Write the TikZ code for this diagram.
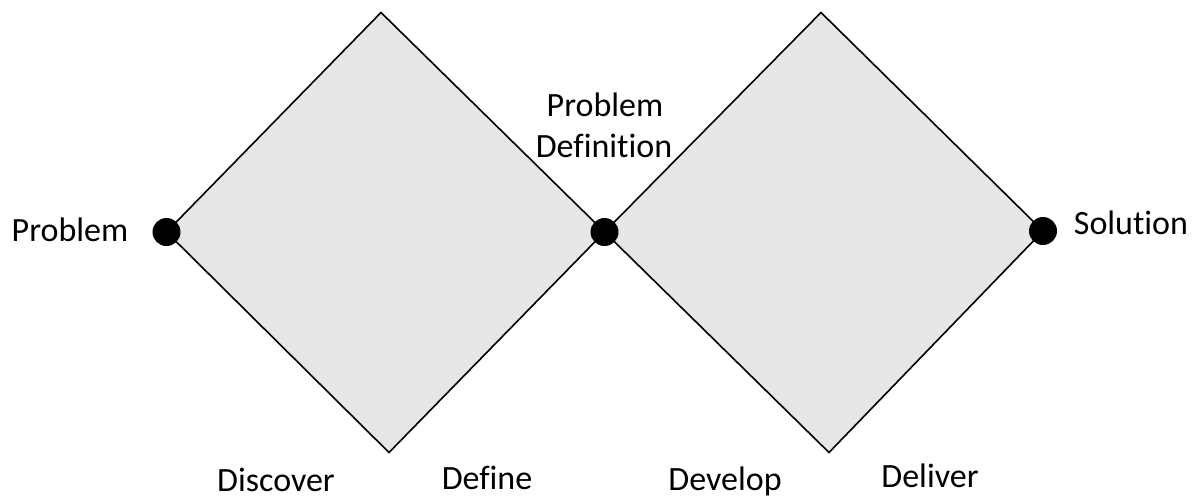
\documentclass[tikz,border=0pt]{standalone}
\usepackage{fontspec}
\setmainfont{Carlito}[Ligatures=NoCommon]
\begin{document}
\begin{tikzpicture}[x=1pt,y=-1pt,
  diam/.style={fill={rgb,255:red,230;green,230;blue,230},draw=black,line width=1.6pt,line join=miter},
  dot/.style={circle,fill=black,inner sep=0pt,minimum size=28pt},
  lbl/.style={font=\fontsize{34}{41}\selectfont,inner sep=0pt,anchor=base,align=center}]
\useasboundingbox (0,0) rectangle (1197,498);
\coordinate (lt) at (381,12.5);
\coordinate (lb) at (389,452.5);
\coordinate (rt) at (821,12.5);
\coordinate (rb) at (829,452.5);
\coordinate (pl) at (166.5,232);
\coordinate (pm) at (604.5,232);
\coordinate (pr) at (1043,231);
\draw[diam] (pl) -- (lt) -- (pm) -- (lb) -- cycle;
\draw[diam] (pm) -- (rt) -- (pr) -- (rb) -- cycle;
\node[dot] (dl) at (pl) {};
\node[dot] (dm) at (pm) {};
\node[dot] (dr) at (pr) {};
\node[lbl] (tprob) at (70,241.5) {Problem};
\node[lbl] (tsol) at (1131,234) {Solution};
\node[lbl] (tpd1) at (605,116) {Problem};
\node[lbl] (tpd2) at (604,157) {Definition};
\node[lbl] (tdisc) at (276,491) {Discover};
\node[lbl] (tdef) at (487,489) {Define};
\node[lbl] (tdev) at (725,490) {Develop};
\node[lbl] (tdel) at (930,487) {Deliver};
\end{tikzpicture}
\end{document}
